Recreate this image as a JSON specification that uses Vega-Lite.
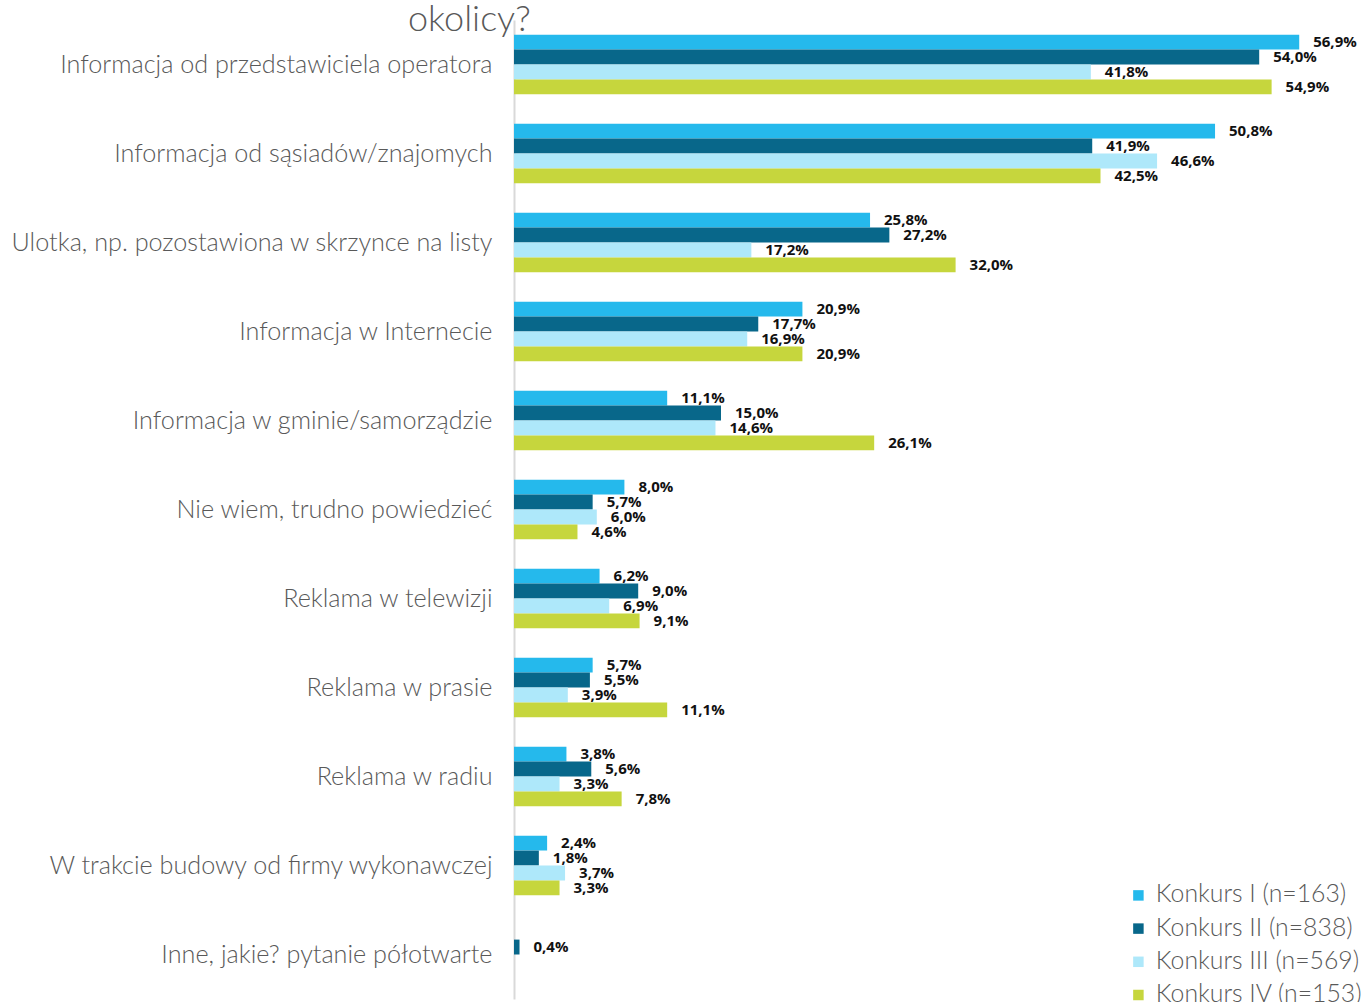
{
  "$schema": "https://vega.github.io/schema/vega-lite/v6.json",
  "autosize": {"type": "none"},
  "padding": {"left": 514, "top": 20, "right": 27, "bottom": 3},
  "width": 828,
  "height": 979,
  "background": "white",
  "title": {
    "text": "okolicy?",
    "anchor": "start",
    "frame": "group",
    "dx": -106,
    "offset": 0,
    "dy": 47,
    "baseline": "alphabetic",
    "font": "Lato",
    "fontWeight": 300,
    "fontSize": 36,
    "color": "#595959"
  },
  "config": {
    "view": {"stroke": null},
    "locale": {"number": {"decimal": ",", "thousands": " ", "grouping": [3], "currency": ["", " zł"]}}
  },
  "data": {
    "values": [
      {"kategoria": "Informacja od przedstawiciela operatora", "seria": "Konkurs I (n=163)", "udzial": 0.569},
      {"kategoria": "Informacja od przedstawiciela operatora", "seria": "Konkurs II (n=838)", "udzial": 0.540},
      {"kategoria": "Informacja od przedstawiciela operatora", "seria": "Konkurs III (n=569)", "udzial": 0.418},
      {"kategoria": "Informacja od przedstawiciela operatora", "seria": "Konkurs IV (n=153)", "udzial": 0.549},
      {"kategoria": "Informacja od sąsiadów/znajomych", "seria": "Konkurs I (n=163)", "udzial": 0.508},
      {"kategoria": "Informacja od sąsiadów/znajomych", "seria": "Konkurs II (n=838)", "udzial": 0.419},
      {"kategoria": "Informacja od sąsiadów/znajomych", "seria": "Konkurs III (n=569)", "udzial": 0.466},
      {"kategoria": "Informacja od sąsiadów/znajomych", "seria": "Konkurs IV (n=153)", "udzial": 0.425},
      {"kategoria": "Ulotka, np. pozostawiona w skrzynce na listy", "seria": "Konkurs I (n=163)", "udzial": 0.258},
      {"kategoria": "Ulotka, np. pozostawiona w skrzynce na listy", "seria": "Konkurs II (n=838)", "udzial": 0.272},
      {"kategoria": "Ulotka, np. pozostawiona w skrzynce na listy", "seria": "Konkurs III (n=569)", "udzial": 0.172},
      {"kategoria": "Ulotka, np. pozostawiona w skrzynce na listy", "seria": "Konkurs IV (n=153)", "udzial": 0.320},
      {"kategoria": "Informacja w Internecie", "seria": "Konkurs I (n=163)", "udzial": 0.209},
      {"kategoria": "Informacja w Internecie", "seria": "Konkurs II (n=838)", "udzial": 0.177},
      {"kategoria": "Informacja w Internecie", "seria": "Konkurs III (n=569)", "udzial": 0.169},
      {"kategoria": "Informacja w Internecie", "seria": "Konkurs IV (n=153)", "udzial": 0.209},
      {"kategoria": "Informacja w gminie/samorządzie", "seria": "Konkurs I (n=163)", "udzial": 0.111},
      {"kategoria": "Informacja w gminie/samorządzie", "seria": "Konkurs II (n=838)", "udzial": 0.150},
      {"kategoria": "Informacja w gminie/samorządzie", "seria": "Konkurs III (n=569)", "udzial": 0.146},
      {"kategoria": "Informacja w gminie/samorządzie", "seria": "Konkurs IV (n=153)", "udzial": 0.261},
      {"kategoria": "Nie wiem, trudno powiedzieć", "seria": "Konkurs I (n=163)", "udzial": 0.080},
      {"kategoria": "Nie wiem, trudno powiedzieć", "seria": "Konkurs II (n=838)", "udzial": 0.057},
      {"kategoria": "Nie wiem, trudno powiedzieć", "seria": "Konkurs III (n=569)", "udzial": 0.060},
      {"kategoria": "Nie wiem, trudno powiedzieć", "seria": "Konkurs IV (n=153)", "udzial": 0.046},
      {"kategoria": "Reklama w telewizji", "seria": "Konkurs I (n=163)", "udzial": 0.062},
      {"kategoria": "Reklama w telewizji", "seria": "Konkurs II (n=838)", "udzial": 0.090},
      {"kategoria": "Reklama w telewizji", "seria": "Konkurs III (n=569)", "udzial": 0.069},
      {"kategoria": "Reklama w telewizji", "seria": "Konkurs IV (n=153)", "udzial": 0.091},
      {"kategoria": "Reklama w prasie", "seria": "Konkurs I (n=163)", "udzial": 0.057},
      {"kategoria": "Reklama w prasie", "seria": "Konkurs II (n=838)", "udzial": 0.055},
      {"kategoria": "Reklama w prasie", "seria": "Konkurs III (n=569)", "udzial": 0.039},
      {"kategoria": "Reklama w prasie", "seria": "Konkurs IV (n=153)", "udzial": 0.111},
      {"kategoria": "Reklama w radiu", "seria": "Konkurs I (n=163)", "udzial": 0.038},
      {"kategoria": "Reklama w radiu", "seria": "Konkurs II (n=838)", "udzial": 0.056},
      {"kategoria": "Reklama w radiu", "seria": "Konkurs III (n=569)", "udzial": 0.033},
      {"kategoria": "Reklama w radiu", "seria": "Konkurs IV (n=153)", "udzial": 0.078},
      {"kategoria": "W trakcie budowy od firmy wykonawczej", "seria": "Konkurs I (n=163)", "udzial": 0.024},
      {"kategoria": "W trakcie budowy od firmy wykonawczej", "seria": "Konkurs II (n=838)", "udzial": 0.018},
      {"kategoria": "W trakcie budowy od firmy wykonawczej", "seria": "Konkurs III (n=569)", "udzial": 0.037},
      {"kategoria": "W trakcie budowy od firmy wykonawczej", "seria": "Konkurs IV (n=153)", "udzial": 0.033},
      {"kategoria": "Inne, jakie? pytanie półotwarte", "seria": "Konkurs II (n=838)", "udzial": 0.004}
    ]
  },
  "encoding": {
    "y": {
      "field": "kategoria",
      "type": "nominal",
      "sort": null,
      "scale": {"paddingInner": 0.33, "paddingOuter": 0.165},
      "axis": {
        "title": null,
        "ticks": false,
        "labelPadding": 22,
        "labelFont": "Lato",
        "labelFontWeight": 300,
        "labelFontSize": 25.2,
        "labelColor": "#595959",
        "labelLimit": 600,
        "domainColor": "#d9d9d9",
        "domainWidth": 2
      }
    },
    "yOffset": {
      "field": "seria",
      "type": "nominal",
      "sort": ["Konkurs I (n=163)", "Konkurs II (n=838)", "Konkurs III (n=569)", "Konkurs IV (n=153)"],
      "scale": {"domain": ["Konkurs I (n=163)", "Konkurs II (n=838)", "Konkurs III (n=569)", "Konkurs IV (n=153)"], "paddingInner": 0, "paddingOuter": 0}
    },
    "x": {
      "field": "udzial",
      "type": "quantitative",
      "scale": {"domain": [0, 0.6], "nice": false},
      "axis": null
    }
  },
  "layer": [
    {
      "mark": {"type": "bar"},
      "encoding": {
        "color": {
          "field": "seria",
          "type": "nominal",
          "scale": {
            "domain": ["Konkurs I (n=163)", "Konkurs II (n=838)", "Konkurs III (n=569)", "Konkurs IV (n=153)"],
            "range": ["#25B9EC", "#08678A", "#AEE8FA", "#C6D63D"]
          },
          "legend": {
            "title": null,
            "orient": "none",
            "legendX": 612,
            "legendY": 863,
            "symbolType": "square",
            "symbolSize": 110,
            "symbolStrokeWidth": 0,
            "labelFont": "Lato",
            "labelFontWeight": 300,
            "labelFontSize": 24.8,
            "labelColor": "#595959",
            "labelOffset": 5,
            "rowPadding": 7.2,
            "labelLimit": 400
          }
        }
      }
    },
    {
      "mark": {"type": "text", "align": "left", "baseline": "middle", "dx": 14, "font": "Open Sans", "fontWeight": "bold", "fontSize": 15, "color": "#111111"},
      "encoding": {
        "text": {"field": "udzial", "type": "quantitative", "format": ".1%"}
      }
    }
  ]
}
